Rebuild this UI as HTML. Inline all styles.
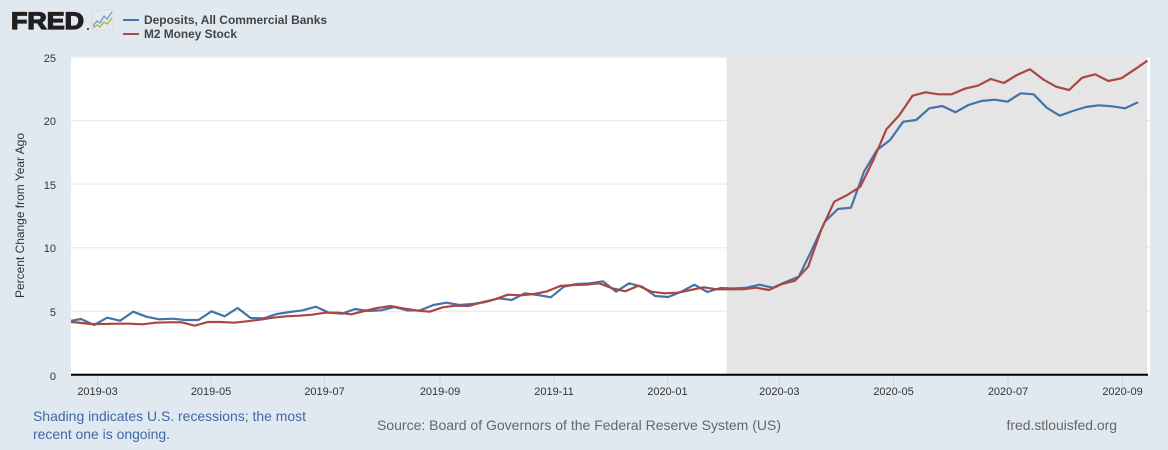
<!DOCTYPE html>
<html><head><meta charset="utf-8"><style>
html,body{margin:0;padding:0;background:#e1e9f0;}
svg{display:block;font-family:"Liberation Sans",Arial,sans-serif;}
</style></head><body>
<svg width="1168" height="450" viewBox="0 0 1168 450" xmlns="http://www.w3.org/2000/svg">
<rect x="0" y="0" width="1168" height="450" fill="#e1e9f0"/>
<!-- logo -->
<text x="11" y="29" font-size="24" font-weight="bold" fill="#231f20" stroke="#231f20" stroke-width="1.3" textLength="73" lengthAdjust="spacingAndGlyphs">FRED</text>
<circle cx="88" cy="29" r="1" fill="#231f20"/>
<rect x="92" y="10" width="21" height="20" fill="#e6e8ea" stroke="#d0d4d8" stroke-width="0.6"/>
<polyline points="93,26 97,21 100,23 104,16 107,19 112,12" fill="none" stroke="#6a9fd0" stroke-width="1.3"/>
<polyline points="93,28 97,25 100,27 104,22 107,24 112,18" fill="none" stroke="#8cbf4a" stroke-width="1.3"/>
<!-- legend -->
<line x1="123" y1="20" x2="139" y2="20" stroke="#4572a7" stroke-width="2"/>
<line x1="123" y1="34" x2="139" y2="34" stroke="#aa4643" stroke-width="2"/>
<text x="144" y="24" font-size="12" font-weight="bold" fill="#444" textLength="183" lengthAdjust="spacingAndGlyphs">Deposits, All Commercial Banks</text>
<text x="144" y="38" font-size="12" font-weight="bold" fill="#444" textLength="93" lengthAdjust="spacingAndGlyphs">M2 Money Stock</text>
<!-- plot area -->
<rect x="71" y="57" width="1079" height="318" fill="#ffffff"/>
<g stroke="#e6e6e6" stroke-width="1">
<line x1="71" y1="57.1" x2="1150" y2="57.1"/>
<line x1="71" y1="120.6" x2="1150" y2="120.6"/>
<line x1="71" y1="184.1" x2="1150" y2="184.1"/>
<line x1="71" y1="247.7" x2="1150" y2="247.7"/>
<line x1="71" y1="311.2" x2="1150" y2="311.2"/>
</g>
<rect x="726.7" y="57" width="420.5" height="318" fill="#e5e5e5"/>
<defs><clipPath id="pc"><rect x="71" y="50" width="1079" height="330"/></clipPath></defs>
<g clip-path="url(#pc)" fill="none" stroke-width="2.2" stroke-linejoin="round">
<polyline stroke="#4572a7" points="67.95,321.5 81,319 94.05,325 107.1,317.7 120.15,320.7 133.2,311.7 146.25,316.7 159.3,319.3 172.35,318.7 185.4,320 198.45,320 211.5,311.3 224.55,316.3 237.6,308 250.65,318 263.7,318.3 276.75,314 289.8,312 302.85,310.3 315.9,306.7 328.95,312.7 342,313.7 355.05,309 368.1,311 381.15,310.3 394.2,307 407.25,310.5 420.3,310.3 433.35,305 446.4,302.7 459.45,305 472.5,304 485.55,302 498.6,298.3 511.65,300 524.7,293.3 537.75,295 550.8,297.3 563.85,286.7 576.9,284 589.95,283.3 603,281.3 616.05,291.7 629.1,283.3 642.15,286.7 655.2,296 668.25,297 681.3,291.7 694.35,284.7 707.4,292 720.45,288 733.5,288.5 746.55,287.7 759.6,284.7 772.65,287.7 785.7,282 798.75,276.7 811.8,250 824.85,221.7 837.9,209 850.95,207.7 864,171.7 877.05,150 890.1,140 903.15,121.7 916.2,120 929.25,108.3 942.3,106 955.35,112.3 968.4,105 981.45,101 994.5,99.7 1007.55,101.7 1020.6,93.3 1033.65,94.3 1046.7,107.7 1059.75,115.7 1072.8,111 1085.85,107 1098.9,105.3 1111.95,106.3 1125,108.3 1138.05,102.3"/>
<polyline stroke="#aa4643" points="64.25,321.5 77.3,322.5 90.35,324 103.4,324 116.45,323.7 129.5,323.7 142.55,324.3 155.6,322.7 168.65,322.3 181.7,322.3 194.75,325.7 207.8,322 220.85,322 233.9,322.7 246.95,321.3 260,319.7 273.05,317.7 286.1,316.3 299.15,315.7 312.2,314.7 325.25,312.7 338.3,312.7 351.35,314.3 364.4,311 377.45,308 390.5,306 403.55,308.5 416.6,310.5 429.65,311.7 442.7,307.3 455.75,305.7 468.8,306 481.85,302.3 494.9,299.3 507.95,294.7 521,295.3 534.05,294 547.1,291.3 560.15,286 573.2,285 586.25,284.7 599.3,283.3 612.35,288.3 625.4,291.3 638.45,285.7 651.5,291.7 664.55,293.3 677.6,292.7 690.65,290 703.7,287.3 716.75,289.3 729.8,289.3 742.85,289.3 755.9,287.7 768.95,290 782,284 795.05,280.7 808.1,266.7 821.15,230 834.2,201.7 847.25,195 860.3,186.7 873.35,160 886.4,129.3 899.45,115 912.5,95.7 925.55,92.3 938.6,94.3 951.65,94.3 964.7,88.7 977.75,85.7 990.8,79 1003.85,83 1016.9,75 1029.95,69.3 1043,79.3 1056.05,86.7 1069.1,90 1082.15,77.7 1095.2,74.3 1108.25,81 1121.3,78.3 1134.35,69.7 1147.4,60.7"/>
</g>
<!-- x axis -->
<line x1="71" y1="374.7" x2="1148" y2="374.7" stroke="#000" stroke-width="2"/>
<g stroke="#ccd6eb" stroke-width="1">
<line x1="97.5" y1="376" x2="97.5" y2="386"/>
<line x1="211" y1="376" x2="211" y2="386"/>
<line x1="324.5" y1="376" x2="324.5" y2="386"/>
<line x1="440" y1="376" x2="440" y2="386"/>
<line x1="554" y1="376" x2="554" y2="386"/>
<line x1="667.4" y1="376" x2="667.4" y2="386"/>
<line x1="779.3" y1="376" x2="779.3" y2="386"/>
<line x1="893.5" y1="376" x2="893.5" y2="386"/>
<line x1="1008" y1="376" x2="1008" y2="386"/>
<line x1="1122.5" y1="376" x2="1122.5" y2="386"/>
</g>
<g font-size="11" fill="#333" text-anchor="middle">
<text x="97.5" y="395">2019-03</text>
<text x="211" y="395">2019-05</text>
<text x="324.5" y="395">2019-07</text>
<text x="440" y="395">2019-09</text>
<text x="554" y="395">2019-11</text>
<text x="667.4" y="395">2020-01</text>
<text x="779.3" y="395">2020-03</text>
<text x="893.5" y="395">2020-05</text>
<text x="1008" y="395">2020-07</text>
<text x="1122.5" y="395">2020-09</text>
</g>
<!-- y axis labels -->
<g font-size="11" fill="#333" text-anchor="end">
<text x="56" y="62">25</text>
<text x="56" y="125">20</text>
<text x="56" y="189">15</text>
<text x="56" y="252">10</text>
<text x="56" y="316">5</text>
<text x="56" y="380">0</text>
</g>
<text transform="translate(24,215.5) rotate(-90)" font-size="12" fill="#333" text-anchor="middle" textLength="165" lengthAdjust="spacingAndGlyphs">Percent Change from Year Ago</text>
<!-- footer -->
<text x="33" y="421" font-size="14" fill="#3e68a8" textLength="273" lengthAdjust="spacingAndGlyphs">Shading indicates U.S. recessions; the most</text>
<text x="33" y="439" font-size="14" fill="#3e68a8" textLength="137" lengthAdjust="spacingAndGlyphs">recent one is ongoing.</text>
<text x="377" y="430" font-size="14" fill="#666" textLength="404" lengthAdjust="spacingAndGlyphs">Source: Board of Governors of the Federal Reserve System (US)</text>
<text x="1006.5" y="430" font-size="14" fill="#666" textLength="110.5" lengthAdjust="spacingAndGlyphs">fred.stlouisfed.org</text>
</svg>
</body></html>
